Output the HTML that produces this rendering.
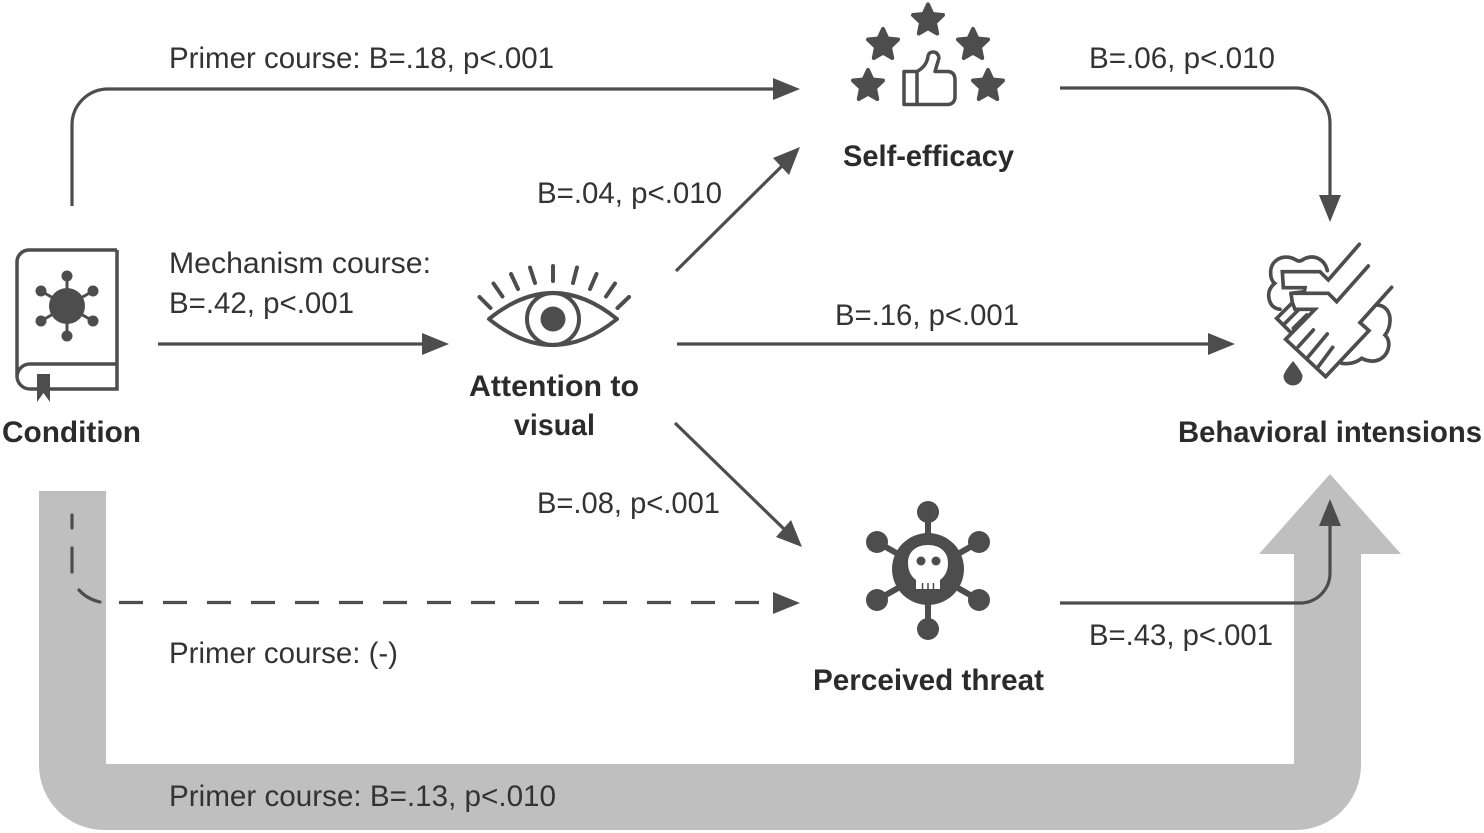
<!DOCTYPE html>
<html>
<head>
<meta charset="utf-8">
<style>
html,body{margin:0;padding:0;background:#fff;width:1484px;height:833px;overflow:hidden}
svg{display:block}
text{font-family:"Liberation Sans",sans-serif;fill:#333;font-size:30px}
text.b{font-weight:bold;fill:#2b2b2b}
</style>
</head>
<body>
<svg width="1484" height="833" viewBox="0 0 1484 833" xmlns="http://www.w3.org/2000/svg">
<!-- grey band -->
<path d="M39 491H106V764H1294V554H1259L1330 474L1401 554H1361V765A65 65 0 0 1 1296 830H104A65 65 0 0 1 39 765Z" fill="#bfbfbf"/>

<!-- connectors -->
<g fill="none" stroke="#4d4d4d" stroke-width="3.2">
<path d="M72 206V125A36 36 0 0 1 108 89H776"/>
<path d="M158 344H425"/>
<path d="M676 271L785 163"/>
<path d="M677 344H1212"/>
<path d="M675 423L785 530"/>
<path d="M1060 88H1295A35 35 0 0 1 1330 123V198"/>
<path d="M1060 603H1300A30 30 0 0 0 1330 573V522"/>
<g stroke-linecap="round">
<path d="M72 515V528"/>
<path d="M72 548V572"/>
<path d="M79 590Q87 599 100 602"/>
<path d="M119 602.500H776" stroke-dasharray="24 20" stroke-linecap="butt"/>
</g>
</g>
<g fill="#4d4d4d">
<polygon points="800,89 773,78 773,100"/>
<polygon points="449,344 422,333 422,355"/>
<polygon points="1235,344 1208,333 1208,355"/>
<polygon points="800,603 773,592 773,614"/>
<polygon points="1330,222 1319,195 1341,195"/>
<polygon points="1330,499 1319,526 1341,526"/>
<polygon points="800,147 773,158 789,175"/>
<polygon points="802,547 776,537 791,520"/>
</g>

<!-- book -->
<g fill="none" stroke="#4d4d4d" stroke-width="3.500">
<path d="M117 250H29A12 12 0 0 0 17 262V376A13 13 0 0 0 30 389H117V250M117 364H30A13 13 0 0 0 17 376"/>
</g>
<polygon points="37,374 50,374 50,402 43.500,393 37,402" fill="#4d4d4d"/>
<g fill="#4d4d4d" stroke="#4d4d4d" stroke-width="3">
<circle cx="67" cy="306" r="18" stroke="none"/>
<path d="M67 276V336M41 291L93 321M93 291L41 321" fill="none"/>
<g stroke="none">
<circle cx="67" cy="276" r="5.500"/><circle cx="67" cy="336" r="5.500"/>
<circle cx="41" cy="291" r="5.500"/><circle cx="93" cy="291" r="5.500"/>
<circle cx="41" cy="321" r="5.500"/><circle cx="93" cy="321" r="5.500"/>
</g>
</g>

<!-- eye -->
<g fill="none" stroke="#4d4d4d" stroke-width="4" stroke-linecap="round" stroke-linejoin="round">
<path d="M489 319Q553 267 617 319Q553 371 489 319Z"/>
<circle cx="553" cy="319" r="26"/>
<path d="M479.500 297L490.500 308M493.500 283.500L502.500 296.500M511 274L518 289M530 267.500L535 283M553 266V281M577 267.500L573 283M596.500 274L590 289M615 283.500L606 296.500M629 297L617.500 308"/>
</g>
<circle cx="553" cy="319" r="12.500" fill="#4d4d4d"/>

<!-- stars -->
<defs>
<polygon id="s" points="0,-15 4.400,-5.500 15,-4.500 7,3.200 9.200,14 0,8.800 -9.200,14 -7,3.200 -15,-4.500 -4.400,-5.500" stroke="#4d4d4d" stroke-width="4" stroke-linejoin="round" fill="#4d4d4d"/>
</defs>
<use href="#s" x="928" y="19.500"/>
<use href="#s" x="883" y="44"/>
<use href="#s" x="973" y="44"/>
<use href="#s" x="868" y="85"/>
<use href="#s" x="988" y="85"/>
<path d="M917 71.500H904V104.500H948Q954 104 955 98L955 80Q955 72 948 71.500H935L939 58Q938 52 933 52Q929 52 928 56Q927 66 917 71.500V104.500" fill="none" stroke="#4d4d4d" stroke-width="3.500" stroke-linejoin="round"/>

<!-- hands -->
<g transform="translate(1240 230) scale(.3333)" fill="none" stroke="#4d4d4d" stroke-width="11" stroke-linecap="round" stroke-linejoin="miter">
<path d="M358 43L265 150L240 125H127L130 173H195L193 185L153 190"/>
<path d="M153 190H265L290 215L385 108"/>
<path d="M153 190L157 218L165 238H225L137 328L257 440L387 302L360 278L455 172"/>
<path d="M157 218L110 265L150 305"/>
<path d="M135 280L175 240M160 295L200 255"/>
<path d="M175 350L220 300M205 380L262 312M235 410L278 352"/>
<path d="M262 122C255 90 225 70 190 88Q178 98 165 88C130 70 90 90 92 130Q92 150 104 160Q80 180 88 210Q95 235 120 238"/>
<path d="M410 225C435 225 452 245 450 275Q448 300 435 315C455 335 448 372 420 388Q395 400 365 385Q340 405 305 400"/>
</g>
<path d="M1293 361Q1302 372 1302.500 376A9.500 9.500 0 0 1 1283.500 376Q1284 372 1293 361Z" fill="#4d4d4d"/>

<!-- skull virus -->
<g fill="#4d4d4d" stroke="#4d4d4d" stroke-width="6">
<path d="M928 512V629M877 542L979 600M979 542L877 600" fill="none"/>
<g stroke="none">
<circle cx="928" cy="569" r="36"/>
<circle cx="928" cy="512" r="11"/><circle cx="928" cy="629" r="11"/>
<circle cx="877" cy="542" r="11"/><circle cx="979" cy="542" r="11"/>
<circle cx="877" cy="600" r="11"/><circle cx="979" cy="600" r="11"/>
</g>
</g>
<path d="M908 563C908 551 917 545 928 545C939 545 948 551 948 563C948 572 944 577 940 580V589H916V580C912 577 908 572 908 563Z" fill="#fff"/>
<circle cx="921" cy="561" r="4.500" fill="#4d4d4d"/>
<circle cx="936" cy="561" r="4.500" fill="#4d4d4d"/>
<path d="M922.500 583V590M928 583V590M933.500 583V590" stroke="#4d4d4d" stroke-width="1.500" fill="none"/>

<!-- labels -->
<text x="169" y="68" textLength="385" lengthAdjust="spacingAndGlyphs">Primer course: B=.18, p&lt;.001</text>
<text x="1089" y="68" textLength="186" lengthAdjust="spacingAndGlyphs">B=.06, p&lt;.010</text>
<text x="537" y="203" textLength="185" lengthAdjust="spacingAndGlyphs">B=.04, p&lt;.010</text>
<text x="169" y="273" textLength="262" lengthAdjust="spacingAndGlyphs">Mechanism course:</text>
<text x="169" y="313" textLength="185" lengthAdjust="spacingAndGlyphs">B=.42, p&lt;.001</text>
<text x="835" y="325" textLength="184" lengthAdjust="spacingAndGlyphs">B=.16, p&lt;.001</text>
<text x="537" y="513" textLength="183" lengthAdjust="spacingAndGlyphs">B=.08, p&lt;.001</text>
<text x="169" y="663" textLength="229" lengthAdjust="spacingAndGlyphs">Primer course: (-)</text>
<text x="1089" y="645" textLength="184" lengthAdjust="spacingAndGlyphs">B=.43, p&lt;.001</text>
<text x="169" y="806" textLength="387" lengthAdjust="spacingAndGlyphs">Primer course: B=.13, p&lt;.010</text>
<text class="b" x="2" y="442" textLength="139" lengthAdjust="spacingAndGlyphs">Condition</text>
<text class="b" x="843" y="166" textLength="171" lengthAdjust="spacingAndGlyphs">Self-efficacy</text>
<text class="b" x="469" y="396" textLength="170" lengthAdjust="spacingAndGlyphs">Attention to</text>
<text class="b" x="514" y="435" textLength="81" lengthAdjust="spacingAndGlyphs">visual</text>
<text class="b" x="1178" y="442" textLength="304" lengthAdjust="spacingAndGlyphs">Behavioral intensions</text>
<text class="b" x="813" y="690" textLength="231" lengthAdjust="spacingAndGlyphs">Perceived threat</text>
</svg>
</body>
</html>
